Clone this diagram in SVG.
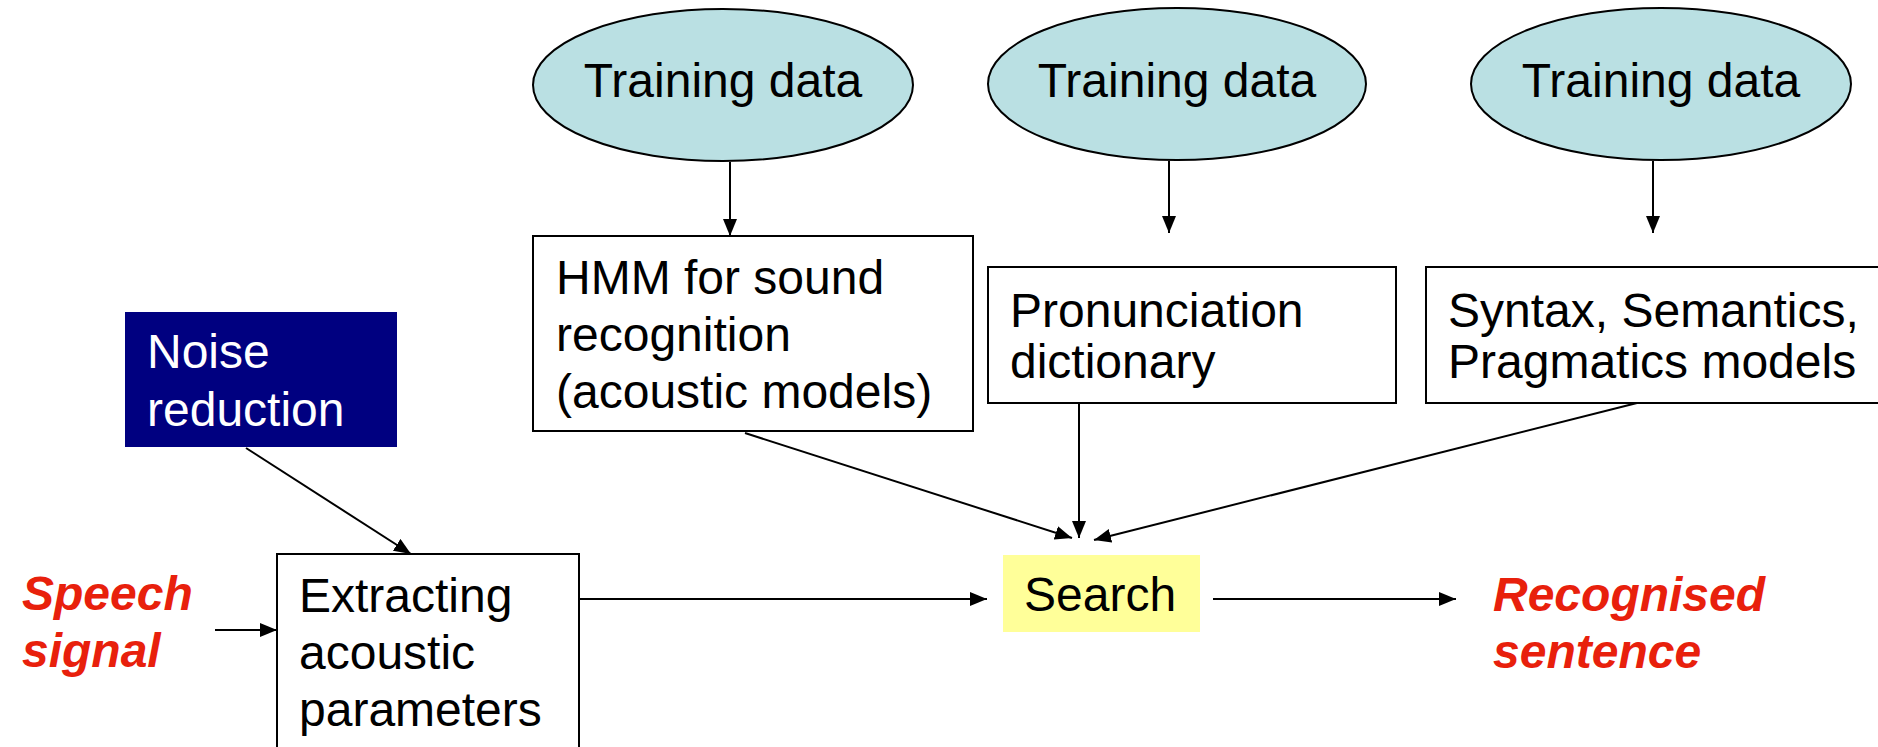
<svg xmlns="http://www.w3.org/2000/svg" width="1878" height="747" viewBox="0 0 1878 747">
<style>
.t{font-family:"Liberation Sans",Arial,sans-serif;font-size:48px;fill:#000}
.w{fill:#fff}
.red{font-family:"Liberation Sans",Arial,sans-serif;font-size:48px;font-weight:bold;font-style:italic;fill:#E8200C}
.ell{fill:#BAE0E3;stroke:#000;stroke-width:2}
.box{fill:#fff;stroke:#000;stroke-width:2}
.c{stroke:#000;stroke-width:2;fill:none;marker-end:url(#ah)}
</style>
<defs>
<marker id="ah" markerUnits="userSpaceOnUse" markerWidth="18" markerHeight="14" refX="17" refY="7" orient="auto">
<path d="M0,0 L17,7 L0,14 Z" fill="#000"/>
</marker>
</defs>
<rect width="1878" height="747" fill="#fff"/>
<g id="td1"><ellipse class="ell" cx="723" cy="85" rx="190" ry="76"/><text class="t" x="723" y="97" text-anchor="middle">Training data</text></g>
<g id="td2"><ellipse class="ell" cx="1177" cy="84" rx="189" ry="76"/><text class="t" x="1177" y="97" text-anchor="middle">Training data</text></g>
<g id="td3"><ellipse class="ell" cx="1661" cy="84" rx="190" ry="76"/><text class="t" x="1661" y="97" text-anchor="middle">Training data</text></g>
<g id="hmm"><rect class="box" x="533" y="236" width="440" height="195"/>
<text class="t" x="556" y="294">HMM for sound</text><text class="t" x="556" y="351">recognition</text><text class="t" x="556" y="408">(acoustic models)</text></g>
<g id="pron"><rect class="box" x="988" y="267" width="408" height="136"/>
<text class="t" x="1010" y="327">Pronunciation</text><text class="t" x="1010" y="378">dictionary</text></g>
<g id="syn"><rect class="box" x="1426" y="267" width="460" height="136"/>
<text class="t" x="1448" y="327">Syntax, Semantics,</text><text class="t" x="1448" y="378">Pragmatics models</text></g>
<g id="noise"><rect x="125" y="312" width="272" height="135" fill="#000080"/>
<text class="t w" x="147" y="368">Noise</text><text class="t w" x="147" y="426">reduction</text></g>
<g id="extract"><rect class="box" x="277" y="554" width="302" height="210"/>
<text class="t" x="299" y="612">Extracting</text><text class="t" x="299" y="669">acoustic</text><text class="t" x="299" y="726">parameters</text></g>
<g id="speech"><text class="red" x="22" y="610">Speech</text><text class="red" x="22" y="667">signal</text></g>
<g id="search"><rect x="1003" y="555" width="197" height="77" fill="#FFFF99"/><text class="t" x="1024" y="611">Search</text></g>
<g id="result"><text class="red" x="1493" y="611">Recognised</text><text class="red" x="1493" y="668">sentence</text></g>
<g id="connectors">
<line class="c" x1="730" y1="162" x2="730" y2="236"/>
<line class="c" x1="1169" y1="161" x2="1169" y2="233"/>
<line class="c" x1="1653" y1="161" x2="1653" y2="233"/>
<line class="c" x1="246" y1="448" x2="411" y2="554"/>
<line class="c" x1="215" y1="630" x2="277" y2="630"/>
<line class="c" x1="579" y1="599" x2="987" y2="599"/>
<line class="c" x1="1213" y1="599" x2="1456" y2="599"/>
<line class="c" x1="745" y1="433" x2="1072" y2="538"/>
<line class="c" x1="1079" y1="403" x2="1079" y2="538"/>
<line class="c" x1="1637" y1="403" x2="1094" y2="540"/>
</g>
</svg>
